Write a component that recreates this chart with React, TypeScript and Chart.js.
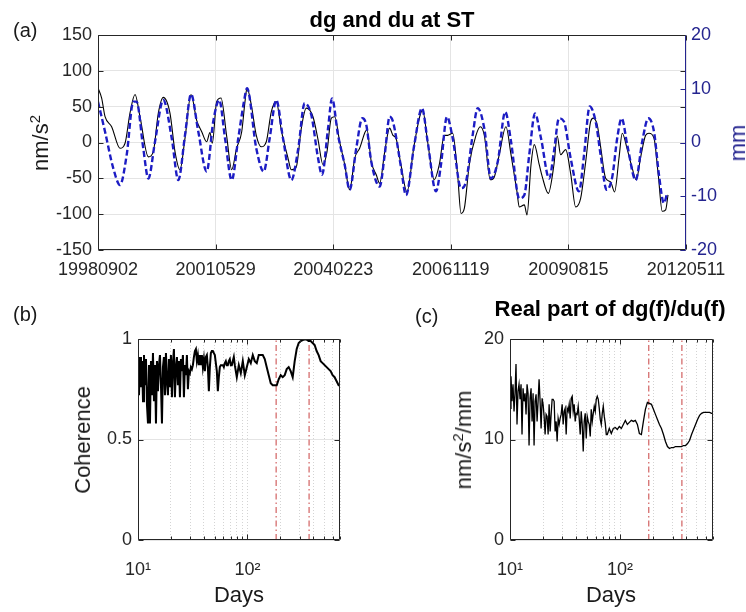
import React, { useEffect, useRef } from 'react';
import { Chart, registerables } from 'chart.js';

Chart.register(...registerables);

const FONT = '"Liberation Sans", Arial, Helvetica, sans-serif';
const AXIS = '#262626';
const BLUE_AXIS = '#24248f';
const BLUE_LINE = '#1c1cc4';
const GRID = '#e4e4e4';
const MINOR_GRID = '#d4d4d4';
const RED = '#c84040';

// ---------- panel (a): time series ----------
const dateTickDays = [0, 1000, 2000, 3000, 4000, 5000];
const dateTickLabels = ['19980902', '20010529', '20040223', '20061119', '20090815', '20120511'];
const dgTicks = [-150, -100, -50, 0, 50, 100, 150];
const duTicks = [-20, -10, 0, 10, 20];

const dgDays = [0, 31, 60, 116, 187, 230, 272, 315, 357, 428, 470, 513, 555, 612, 655, 697, 740, 791, 839, 882, 924, 952, 972, 1009, 1046, 1094, 1137, 1179, 1222, 1250, 1267, 1304, 1346, 1389, 1431, 1474, 1516, 1559, 1616, 1644, 1686, 1729, 1771, 1828, 1871, 1913, 1947, 1984, 2013, 2055, 2098, 2140, 2183, 2225, 2287, 2324, 2366, 2395, 2438, 2480, 2508, 2534, 2576, 2627, 2689, 2761, 2803, 2859, 2902, 2945, 2973, 3016, 3058, 3087, 3115, 3157, 3214, 3251, 3285, 3336, 3370, 3412, 3469, 3512, 3563, 3582, 3625, 3648, 3682, 3710, 3752, 3778, 3829, 3877, 3905, 3934, 3977, 4019, 4062, 4104, 4147, 4189, 4212, 4246, 4274, 4317, 4359, 4393, 4430, 4458, 4501, 4543, 4577, 4615, 4657, 4685, 4728, 4764, 4798, 4827, 4847];
const dgValues = [76, 62, 36, 22, -8, -1, 41, 67, 36, -20, -13, 41, 63, 41, -13, -38, 6, 67, 31, 15, 1, 14, -1, 57, 62, 9, -38, -8, 15, 57, 76, 52, 10, -6, 1, 43, 57, 17, -22, -38, -34, 20, 48, 36, 4, -31, -13, 34, 36, 1, -31, -66, -22, -8, 18, -27, -45, -57, -13, 20, 10, 6, -31, -69, -3, 45, 1, -52, -31, 10, 10, 13, -45, -99, -92, -31, 10, 22, 10, -52, -48, -17, 22, -17, -69, -90, -87, -101, -31, -3, -31, -48, -71, -31, 9, -17, -10, -43, -90, -78, -27, 29, 34, 24, -6, -50, -55, -69, -22, 13, -10, -36, -52, -20, 10, 13, 6, -45, -96, -94, -73];

const duDays = [0, 60, 130, 187, 244, 300, 328, 385, 428, 485, 555, 627, 683, 740, 791, 853, 924, 980, 1031, 1080, 1137, 1193, 1241, 1267, 1346, 1409, 1460, 1516, 1573, 1644, 1703, 1757, 1814, 1871, 1905, 1956, 1990, 2041, 2098, 2140, 2196, 2247, 2281, 2324, 2395, 2438, 2480, 2508, 2576, 2619, 2689, 2755, 2803, 2874, 2916, 2967, 3016, 3087, 3129, 3186, 3229, 3285, 3342, 3399, 3463, 3512, 3582, 3625, 3667, 3716, 3767, 3837, 3877, 3920, 3962, 4019, 4090, 4133, 4181, 4232, 4274, 4325, 4373, 4415, 4453, 4501, 4572, 4628, 4679, 4728, 4770, 4812, 4840];
const duValues = [7.6, 2, -4.8, -7.9, -2.3, 7.6, 7.6, -1.1, -6.7, 0.2, 7.9, 0.8, -7, 1.4, 9, 2, -5.4, 3.9, 7.9, 0.8, -7, 0.8, 7.6, 10.1, -1.1, -5.4, 0.8, 7.9, 0.8, -7, -1.1, 7.3, 5.1, -2.9, -6, 2.6, 8.2, 1.4, -4.2, -8.8, -1.1, 4.5, 3.3, -3.6, -8.2, -2.3, 4.8, 3.9, -4.5, -9.8, -0.5, 6.4, 0.2, -9.1, -4.2, 4.8, 0.8, -8.5, -7.3, 1.4, 6.4, 2.6, -6.7, -3.6, 5.7, 0.2, -10.4, -9.8, -2.3, 5.4, 0.8, -6.7, -1.7, 4.5, 3.9, -2.9, -9.1, -2.3, 6.7, 3.9, -2.3, -8.8, -6.4, 0.8, 4.5, -0.5, -7, 0.2, 4.5, 2, -6, -11.3, -9.4];

// ---------- panels (b) and (c): spectral ----------
const periods = [
  10.00, 10.21, 10.43, 10.65, 10.88, 11.11, 11.34, 11.58, 11.83, 12.08,
  12.34, 12.60, 12.86, 13.14, 13.42, 13.70, 13.99, 14.29, 14.59, 14.90,
  15.22, 15.54, 15.87, 16.21, 16.55, 16.90, 17.26, 17.63, 18.00, 18.38,
  18.77, 19.17, 19.58, 19.99, 20.42, 20.85, 21.29, 21.74, 22.21, 22.68,
  23.16, 23.65, 24.15, 24.66, 25.19, 25.72, 26.27, 26.82, 27.39, 27.97,
  28.57, 29.17, 29.79, 30.42, 31.07, 31.73, 32.40, 33.09, 33.79, 34.50,
  35.24, 35.98, 36.75, 37.53, 38.32, 39.14, 39.97, 40.81, 41.68, 42.56,
  43.47, 44.39, 45.33, 46.29, 47.27, 48.28, 49.30, 50.35, 51.41, 52.50,
  53.62, 54.75, 55.92, 57.10, 58.31, 59.55, 60.81, 62.10, 63.42, 64.76,
  66.14, 67.54, 68.97, 70.44, 71.93, 73.46, 75.02, 76.61,
  79.89, 83.32, 86.89, 90.62, 94.50, 98.55, 102.78, 107.18, 111.78, 116.57,
  121.57, 126.78, 132.22, 137.89, 143.80, 149.97, 156.40, 163.11, 170.10, 177.39,
  185.00, 192.93, 201.20, 209.83, 218.83, 228.21, 237.99, 248.20, 258.84, 269.94,
  281.51, 293.58, 306.17, 319.30, 332.99, 347.27, 362.16, 377.69, 393.88, 410.77,
  428.38, 446.75, 465.90, 485.88, 506.71, 528.44, 551.10, 574.73, 599.37, 625.07,
  651.87, 679.82, 700
];
const coherence = [
  0.86, 0.72, 0.91, 0.76, 0.89, 0.69, 0.92, 0.77, 0.90, 0.67,
  0.58, 0.87, 0.58, 0.89, 0.72, 0.93, 0.69, 0.87, 0.58, 0.89,
  0.74, 0.87, 0.92, 0.77, 0.58, 0.86, 0.91, 0.72, 0.93, 0.79,
  0.72, 0.90, 0.76, 0.92, 0.71, 0.88, 0.95, 0.71, 0.86, 0.91,
  0.77, 0.89, 0.71, 0.90, 0.84, 0.92, 0.71, 0.87, 0.82, 0.92,
  0.75, 0.84, 0.83, 0.86, 0.85, 0.87, 0.91, 0.94, 0.95, 0.89,
  0.92, 0.87, 0.92, 0.87, 0.92, 0.86, 0.90, 0.84, 0.91, 0.92,
  0.86, 0.74, 0.86, 0.93, 0.94, 0.94, 0.93, 0.92, 0.88, 0.84,
  0.74, 0.81, 0.86, 0.87, 0.87, 0.87, 0.86, 0.88, 0.89, 0.87,
  0.87, 0.89, 0.90, 0.87, 0.87, 0.89, 0.91, 0.87,
  0.81, 0.87, 0.83, 0.89, 0.82, 0.86, 0.90, 0.88, 0.92, 0.89,
  0.88, 0.92, 0.92, 0.92, 0.90, 0.86, 0.82, 0.78, 0.77, 0.77,
  0.77, 0.80, 0.82, 0.81, 0.82, 0.85, 0.86, 0.84, 0.81, 0.89,
  0.95, 0.98, 0.99, 0.995, 0.997, 0.997, 0.99, 0.99, 0.98, 0.97,
  0.94, 0.92, 0.89, 0.88, 0.87, 0.86, 0.85, 0.84, 0.82, 0.81,
  0.79, 0.77, 0.77
];
const realRatio = [
  13.1, 16.3, 13.8, 15.5, 12.8, 14.6, 17.5, 11.5, 14.8, 15.5,
  14.0, 15.5, 10.5, 15.1, 13.8, 14.6, 12.5, 15.5, 14.6, 9.4,
  14.1, 15.1, 11.8, 14.6, 9.4, 13.8, 14.5, 11.8, 13.8, 16.0,
  13.8, 11.1, 14.1, 13.5, 12.3, 10.5, 12.5, 12.3, 10.5, 13.5,
  10.8, 12.5, 14.0, 14.0, 13.8, 10.8, 11.8, 9.8, 12.1, 11.5,
  12.1, 12.5, 13.5, 11.5, 12.8, 13.1, 10.5, 13.1, 12.8, 13.5,
  12.1, 14.1, 14.3, 12.8, 13.5, 11.8, 12.6, 12.5, 13.3, 12.1,
  10.5, 12.8, 11.5, 8.8, 11.8, 12.6, 10.1, 12.3, 11.8, 11.5,
  10.3, 13.0, 11.8, 12.6, 13.3, 12.8, 14.0, 14.3, 14.0, 13.1,
  12.0, 11.5, 12.6, 13.3, 12.3, 11.6, 10.5, 10.5,
  11.1, 10.6, 11.1, 11.2, 11.0, 11.3, 11.1, 11.5, 11.9, 11.5,
  11.7, 11.9, 11.8, 11.9, 11.5, 10.6, 10.5, 11.8, 13.0, 13.7,
  13.6, 13.5, 13.0, 12.5, 12.0, 11.5, 11.1, 10.5, 9.8, 9.3,
  9.1, 9.2, 9.2, 9.3, 9.3, 9.3, 9.3, 9.4, 9.4, 9.6,
  9.9, 10.5, 11.0, 11.5, 12.0, 12.4, 12.6, 12.7, 12.7, 12.7,
  12.7, 12.6, 12.6
];
const markerPeriods = [182.625, 365.25];
const logTicks = [10, 20, 30, 40, 50, 60, 70, 80, 90, 100, 200, 300, 400, 500, 600, 700];
const logLabels: Record<number, string> = { 10: '10\u00B9', 100: '10\u00B2' };
const coherenceTicks = [0, 0.5, 1];
const ratioTicks = [0, 10, 20];

// ---------- helpers ----------
const framePlugin = {
  id: 'frame',
  afterDatasetsDraw(chart: any, _a: any, opts: any) {
    const { ctx, chartArea: a } = chart;
    const L = Math.round(a.left) + 0.5;
    const R = Math.round(a.right) - 0.5;
    const T = Math.round(a.top) + 0.5;
    const B = Math.round(a.bottom) - 0.5;
    ctx.save();
    ctx.lineWidth = 1;
    ctx.setLineDash([]);
    const xs = chart.scales.x;
    ctx.strokeStyle = opts.color;
    ctx.beginPath();
    for (const [v, len] of opts.xTicks) {
      const px = Math.round(xs.getPixelForValue(v)) + 0.5;
      ctx.moveTo(px, B); ctx.lineTo(px, B - len);
      ctx.moveTo(px, T); ctx.lineTo(px, T + len);
    }
    ctx.stroke();
    for (const yt of opts.yTicks) {
      const s = chart.scales[yt.id];
      ctx.strokeStyle = yt.color;
      ctx.beginPath();
      for (const v of yt.values) {
        const py = Math.round(s.getPixelForValue(v)) + 0.5;
        if (yt.left) { ctx.moveTo(L, py); ctx.lineTo(L + yt.len, py); }
        if (yt.right) { ctx.moveTo(R, py); ctx.lineTo(R - yt.len, py); }
      }
      ctx.stroke();
    }
    ctx.strokeStyle = opts.color;
    ctx.beginPath();
    ctx.moveTo(R, T); ctx.lineTo(L, T); ctx.lineTo(L, B); ctx.lineTo(R, B);
    if (!opts.rightColor) ctx.lineTo(R, T);
    ctx.stroke();
    if (opts.rightColor) {
      ctx.strokeStyle = opts.rightColor;
      ctx.beginPath(); ctx.moveTo(R, T); ctx.lineTo(R, B); ctx.stroke();
    }
    ctx.restore();
  },
};

const tickFont = { family: FONT, size: 18 };

function topChart(canvas: HTMLCanvasElement) {
  return new Chart(canvas, {
    type: 'line',
    data: {
      datasets: [
        {
          label: 'du',
          data: duDays.map((d, i) => ({ x: d, y: duValues[i] })),
          yAxisID: 'y1',
          borderColor: BLUE_LINE,
          borderWidth: 2.4,
          borderDash: [6, 3],
          pointRadius: 0,
          cubicInterpolationMode: 'monotone',
          fill: false,
        },
        {
          label: 'dg',
          data: dgDays.map((d, i) => ({ x: d, y: dgValues[i] })),
          yAxisID: 'y',
          borderColor: '#000000',
          borderWidth: 1.1,
          pointRadius: 0,
          cubicInterpolationMode: 'monotone',
          fill: false,
        },
      ],
    },
    options: {
      animation: false,
      responsive: false,
      events: [],
      layout: { padding: { top: 35, left: 0, right: 0, bottom: 0 } },
      plugins: {
        legend: { display: false },
        tooltip: { enabled: false },
        frame: {
          color: AXIS,
          rightColor: BLUE_AXIS,
          xTicks: dateTickDays.map((v) => [v, 5]),
          yTicks: [
            { id: 'y', values: dgTicks, left: true, right: true, len: 5, color: AXIS },
            { id: 'y1', values: duTicks, left: false, right: true, len: 5, color: BLUE_AXIS },
          ],
        },
      } as any,
      scales: {
        x: {
          type: 'linear',
          min: 0,
          max: 5000,
          afterBuildTicks: (s: any) => { s.ticks = dateTickDays.map((v) => ({ value: v })); },
          afterFit: (s: any) => { s.height = 40; },
          ticks: {
            autoSkip: false,
            maxRotation: 0,
            padding: 9,
            color: AXIS,
            font: tickFont,
            callback: (v: any) => dateTickLabels[dateTickDays.indexOf(Number(v))] ?? '',
          },
          grid: { color: GRID, drawTicks: false },
          border: { display: false },
        },
        y: {
          type: 'linear',
          position: 'left',
          min: -150,
          max: 150,
          afterBuildTicks: (s: any) => { s.ticks = dgTicks.map((v) => ({ value: v })); },
          afterFit: (s: any) => { s.width = 98; },
          ticks: { padding: 6, color: AXIS, font: tickFont, callback: (v: any) => String(v) },
          grid: { color: GRID, drawTicks: false },
          border: { display: false },
        },
        y1: {
          type: 'linear',
          position: 'right',
          min: -20,
          max: 20,
          afterBuildTicks: (s: any) => { s.ticks = duTicks.map((v) => ({ value: v })); },
          afterFit: (s: any) => { s.width = 60; },
          ticks: { padding: 5, color: BLUE_AXIS, font: tickFont, callback: (v: any) => String(v) },
          grid: { display: false, drawTicks: false },
          border: { display: false },
        },
      },
    } as any,
    plugins: [framePlugin],
  });
}

function spectralChart(canvas: HTMLCanvasElement, values: number[], yTicks: number[], yMax: number, yWidth: number, lineWidth: number) {
  return new Chart(canvas, {
    type: 'line',
    data: {
      datasets: [
        {
          label: 'series',
          data: periods.map((p, i) => ({ x: p, y: values[i] })),
          borderColor: '#000000',
          borderWidth: lineWidth,
          pointRadius: 0,
          tension: 0,
          fill: false,
        },
        ...markerPeriods.map((p) => ({
          label: 'marker',
          data: [{ x: p, y: 0 }, { x: p, y: yMax }],
          borderColor: RED,
          borderWidth: 1,
          borderDash: [6, 3, 1.5, 3],
          pointRadius: 0,
          fill: false,
        })),
      ],
    },
    options: {
      animation: false,
      responsive: false,
      events: [],
      layout: { padding: { top: 49, left: 0, right: 33, bottom: 0 } },
      plugins: {
        legend: { display: false },
        tooltip: { enabled: false },
        frame: {
          color: AXIS,
          xTicks: logTicks.map((v) => [v, v === 10 || v === 100 ? 5 : 3]),
          yTicks: [{ id: 'y', values: yTicks, left: true, right: true, len: 5, color: AXIS }],
        },
      } as any,
      scales: {
        x: {
          type: 'logarithmic',
          min: 10,
          max: 700,
          afterBuildTicks: (s: any) => { s.ticks = logTicks.map((v) => ({ value: v })); },
          afterFit: (s: any) => { s.height = 72; },
          ticks: {
            autoSkip: false,
            maxRotation: 0,
            padding: 19,
            color: AXIS,
            font: tickFont,
            callback: (v: any) => logLabels[Number(v)] ?? '',
          },
          grid: { color: MINOR_GRID, drawTicks: false, borderDash: [1, 2] },
          border: { display: false, dash: [1, 2] },
        },
        y: {
          type: 'linear',
          min: 0,
          max: yMax,
          afterBuildTicks: (s: any) => { s.ticks = yTicks.map((v) => ({ value: v })); },
          afterFit: (s: any) => { s.width = yWidth; },
          ticks: { padding: 6, color: AXIS, font: tickFont, callback: (v: any) => String(v) },
          grid: { color: GRID, drawTicks: false },
          border: { display: false },
        },
      },
    } as any,
    plugins: [framePlugin],
  });
}

const baseText: React.CSSProperties = {
  position: 'absolute',
  fontFamily: FONT,
  lineHeight: 1,
  whiteSpace: 'nowrap',
  color: '#1a1a1a',
};

function Rot({ cx, cy, size, color, children }: any) {
  return (
    <div style={{ ...baseText, left: cx, top: cy, fontSize: size, color: color || '#1a1a1a', transform: 'translate(-50%, -50%) rotate(-90deg)' }}>
      {children}
    </div>
  );
}

function HText({ cx, top, size, bold, children }: any) {
  return (
    <div style={{ ...baseText, left: cx, top, fontSize: size, fontWeight: bold ? 'bold' : 'normal', transform: 'translateX(-50%)', color: bold ? '#000' : '#1a1a1a' }}>
      {children}
    </div>
  );
}

function LText({ left, top, size, children }: any) {
  return <div style={{ ...baseText, left, top, fontSize: size }}>{children}</div>;
}

export default function App() {
  const aRef = useRef<HTMLCanvasElement>(null);
  const bRef = useRef<HTMLCanvasElement>(null);
  const cRef = useRef<HTMLCanvasElement>(null);

  useEffect(() => {
    const charts = [
      topChart(aRef.current!),
      spectralChart(bRef.current!, coherence, coherenceTicks, 1, 138, 2),
      spectralChart(cRef.current!, realRatio, ratioTicks, 20, 137, 1.3),
    ];
    return () => charts.forEach((c) => c.destroy());
  }, []);

  const sup = { fontSize: '0.68em', verticalAlign: '0.55em', lineHeight: 0 } as React.CSSProperties;

  return (
    <div style={{ position: 'absolute', left: 0, top: 0, width: 746, height: 612, background: '#ffffff', overflow: 'hidden' }}>
      <canvas ref={aRef} width={746} height={290} style={{ position: 'absolute', left: 0, top: 0, width: 746, height: 290 }} />
      <canvas ref={bRef} width={373} height={322} style={{ position: 'absolute', left: 0, top: 290, width: 373, height: 322 }} />
      <canvas ref={cRef} width={373} height={322} style={{ position: 'absolute', left: 373, top: 290, width: 373, height: 322 }} />

      <HText cx={392} top={9} size={22} bold>dg and du at ST</HText>
      <LText left={13} top={20} size={20}>(a)</LText>
      <Rot cx={41} cy={143} size={22}>nm/s<span style={sup}>2</span></Rot>
      <Rot cx={738} cy={143} size={22} color={BLUE_AXIS}>mm</Rot>

      <LText left={13} top={304} size={20}>(b)</LText>
      <Rot cx={83} cy={440} size={22}>Coherence</Rot>
      <HText cx={239} top={584} size={22}>Days</HText>

      <LText left={415} top={306} size={20}>(c)</LText>
      <HText cx={610} top={298} size={22} bold>Real part of dg(f)/du(f)</HText>
      <Rot cx={464} cy={440} size={22}>nm/s<span style={sup}>2</span>/mm</Rot>
      <HText cx={611} top={584} size={22}>Days</HText>
    </div>
  );
}
